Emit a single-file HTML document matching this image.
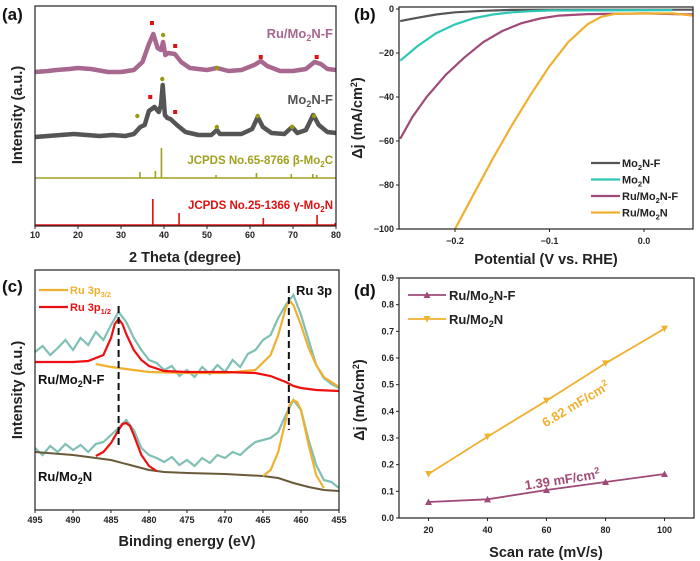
<!DOCTYPE html>
<html><head><meta charset="utf-8"><style>
html,body{margin:0;padding:0;background:#fff}
svg{display:block;font-family:"Liberation Sans",Arial,sans-serif}
.tk{font-size:9px;font-weight:bold;fill:#222}
.ttl{font-size:14.5px;font-weight:bold;fill:#222}
.pl{font-size:17px;font-weight:bold;fill:#111}
</style></head><body>
<svg id="fig" width="700" height="561" viewBox="0 0 700 561" xmlns="http://www.w3.org/2000/svg">
<g id="pa"></g>
<g id="pb"></g>
<g id="pc"></g>
<g id="pd"></g>
</svg>
<script>
// ---------- Panel (a) data ----------
const xrdTicks = [10,20,30,40,50,60,70,80];
const xrdRuX = [10,13,15,18,20,23,27,30,33,35,36.5,37.5,38.5,39.3,39.8,40.3,41,42.5,44,46,50,52.3,55,58,61,62.5,64,67,70,73,75,76.5,78,80];
const xrdRuY = [0,1,2,3,4,3,0,0,2,10,28,38,24,22,30,17,19,18,10,4,2,4,1,2,7,11,6,1,1,3,10,8,3,2];
const xrdMoX = [10,13,16,19,22,25,28,31,33,34.5,35.5,36.5,37.8,38.8,39.3,39.7,40.2,40.8,41.5,43,45,48,51,52.3,53,58,60.5,61.8,63,65,68,69.8,71,73,74.7,76,78,80];
const xrdMoY = [0,1,2,3,2,1,2,1,3,10,12,26,30,25,32,52,22,19,18,12,5,2,2,7,3,3,8,20,10,4,3,10,4,7,22,12,5,4];
const mo2cPos = [34.4,38.0,39.4,52.1,61.5,69.6,74.6,75.5];
const mo2cH = [6,7,30,3,5,4,4,3];
const mo2nPos = [37.4,43.5,63.1,75.6,79.8];
const mo2nH = [27,13,8,11,3];
const ruSq = [37.2,42.6,62.5,75.5]; const ruSqY = [49,26,15,15];
const ruDot = [39.8,52.3]; const ruDotY = [37,4];
const moSq = [36.8,42.6]; const moSqY = [40,25];
const moDot = [33.8,39.6,52.3,61.8,69.8,74.9]; const moDotY = [21,58,10,21,10,21];

// ---------- Panel (b) data ----------
const lsvTicksX = [-0.2,-0.1,0.0];
const lsvTicksY = [0,-20,-40,-60,-80,-100];
const mo2nfV = [-0.258,-0.24,-0.22,-0.2,-0.17,-0.14,-0.1,0,0.052];
const mo2nfJ = [-5.5,-4,-2.5,-1.5,-0.8,-0.4,-0.3,-0.3,-0.3];
const mo2nV = [-0.258,-0.24,-0.22,-0.2,-0.18,-0.16,-0.14,-0.12,-0.1,0.03];
const mo2nJ = [-23.5,-17,-11,-7,-4.2,-2.5,-1.5,-1,-0.7,-0.5];
const rufV = [-0.258,-0.245,-0.23,-0.21,-0.19,-0.17,-0.15,-0.13,-0.11,-0.09,-0.06,0,0.052];
const rufJ = [-59,-49,-40,-30,-22,-15,-10,-6.5,-4.3,-3,-2.3,-2,-2.5];
const runV = [-0.2,-0.18,-0.16,-0.14,-0.12,-0.1,-0.08,-0.06,-0.045,-0.03,0,0.03,0.052];
const runJ = [-100,-84,-68,-53,-39,-26,-15,-7,-3.5,-2.2,-2,-2,-3];

// ---------- Panel (c) data ----------
const xpsTicks = [495,490,485,480,475,470,465,460,455];
const upRedX = [495,490,488,486,485,484.5,484,483.5,483,482,481,480,478,475,470,466,464,462,461,460,458,455];
const upRedY = [148,148,149,155,172,186,191,186,176,160,150,144,139,138,138,137,134,128,124,122,120,119];
const upOrX = [487,485,483,480,475,470,466,464,463,462,461.5,461,460,459,458,457,455];
const upOrY = [146,143,141,138,137,137,140,155,175,202,209,205,185,162,145,133,123];
const upRawX = [495,494,493,492,491,490,489,488,487,486,485,484,483,482,481,480,479,478,477,476,475,474,473,472,471,470,469,468,467,466,465,464,463,462,461,460,459,458,457,456,455];
const upRawY = [158,164,155,162,170,160,172,165,178,170,185,198,188,172,160,150,147,140,144,134,140,133,143,136,145,138,150,143,156,160,170,175,192,205,215,195,170,145,132,126,122];
const loBgX = [495,490,485,482,480,478,475,470,465,463,461,459,457,455];
const loBgY = [58,55,50,44,40,38,37,36,34,32,27,23,20,19];
const loRedX = [487,486,485,484,483.5,483,482.5,482,481,480,479];
const loRedY = [54,58,67,80,86,87,84,75,55,44,39];
const loOrX = [465,464,463,462,461.5,461,460.5,460,459,458,457];
const loOrY = [34,40,58,90,105,110,108,100,65,35,22];
const loRawY = [62,55,64,58,66,60,65,58,66,68,75,82,90,80,62,55,52,48,53,45,50,44,52,47,55,52,58,55,62,68,70,72,78,95,110,100,70,45,30,28,22];

// ---------- Panel (d) data ----------
const scanRates = [20,40,60,80,100];
const ruMo2nF = [0.06,0.07,0.105,0.135,0.165];
const ruMo2n = [0.165,0.305,0.44,0.58,0.71];
const dTicksX = [20,40,60,80,100];
const dTicksY = [0.0,0.1,0.2,0.3,0.4,0.5,0.6,0.7,0.8,0.9];

const NS="http://www.w3.org/2000/svg";
function mk(parent,tag,attrs,text){const e=document.createElementNS(NS,tag);for(const k in attrs)e.setAttribute(k,attrs[k]);if(text!==undefined)e.textContent=text;parent.appendChild(e);return e;}
function lin(d0,d1,r0,r1){return v=>r0+(v-d0)*(r1-r0)/(d1-d0);}
function pathD(xs,ys,sx,sy){return xs.map((x,i)=>(i?'L':'M')+sx(x).toFixed(1)+','+sy(ys[i]).toFixed(1)).join('');}

// ================= Panel A =================
(function(){
const g=document.getElementById('pa');
const X0=35,X1=336,T=6,B=226;
const sx=lin(10,80,X0,X1);
let t=mk(g,'text',{x:2,y:20,class:'pl'},'(a)');


let p=mk(g,'path',{d:pathD(xrdRuX,xrdRuY,sx,v=>72-v),fill:'none',stroke:'#a8678f','stroke-width':4.5,'stroke-linejoin':'round'});


p=mk(g,'path',{d:pathD(xrdMoX,xrdMoY,sx,v=>137-v),fill:'none',stroke:'#555','stroke-width':4.5,'stroke-linejoin':'round'});


let l=mk(g,'line',{x1:X0,x2:X1,y1:178,y2:178,stroke:'#a0a020','stroke-width':1.5});


mo2cPos.forEach((x,i)=>{const s=mk(g,'line',{x1:sx(x),x2:sx(x),y1:178,y2:178-mo2cH[i],stroke:'#a0a020','stroke-width':1.6});

});
l=mk(g,'line',{x1:X0,x2:X1,y1:225,y2:225,stroke:'#e01010','stroke-width':1.5});


mo2nPos.forEach((x,i)=>{const s=mk(g,'line',{x1:sx(x),x2:sx(x),y1:226,y2:226-mo2nH[i],stroke:'#e01010','stroke-width':1.6});

});
function sq(xs,ys,base){xs.forEach((x,i)=>{const r=mk(g,'rect',{x:sx(x)-2,y:base-ys[i]-2,width:4,height:4,fill:'#e01010'});

});}
function dot(xs,ys,base){xs.forEach((x,i)=>{const c=mk(g,'circle',{cx:sx(x),cy:base-ys[i],r:2.2,fill:'#9a9a10'});

});}
sq(ruSq,ruSqY,72);dot(ruDot,ruDotY,72);sq(moSq,moSqY,137);dot(moDot,moDotY,137);
t=mk(g,'text',{x:333,y:38,'text-anchor':'end','font-size':13,'font-weight':'bold',fill:'#a8678f'});
t.innerHTML='Ru/Mo<tspan font-size="9" dy="3">2</tspan><tspan dy="-3">N-F</tspan>';


t=mk(g,'text',{x:333,y:104,'text-anchor':'end','font-size':13,'font-weight':'bold',fill:'#555'});
t.innerHTML='Mo<tspan font-size="9" dy="3">2</tspan><tspan dy="-3">N-F</tspan>';


t=mk(g,'text',{x:333,y:164,'text-anchor':'end','font-size':11.5,'font-weight':'bold',fill:'#a0a020'});
t.innerHTML='JCPDS No.65-8766 β-Mo<tspan font-size="8" dy="3">2</tspan><tspan dy="-3">C</tspan>';


t=mk(g,'text',{x:333,y:209,'text-anchor':'end','font-size':11.5,'font-weight':'bold',fill:'#e01010'});
t.innerHTML='JCPDS No.25-1366 γ-Mo<tspan font-size="8" dy="3">2</tspan><tspan dy="-3">N</tspan>';


let f=mk(g,'rect',{x:X0,y:T,width:X1-X0,height:B-T,fill:'none',stroke:'#222','stroke-width':1.2});


xrdTicks.forEach(v=>{const tk=mk(g,'line',{x1:sx(v),x2:sx(v),y1:B,y2:B+3,stroke:'#222'});


const tl=mk(g,'text',{x:sx(v),y:B+12,'text-anchor':'middle',class:'tk'},v);

});
t=mk(g,'text',{x:185,y:262,'text-anchor':'middle',class:'ttl'},'2 Theta (degree)');


t=mk(g,'text',{x:0,y:0,'text-anchor':'middle',class:'ttl',transform:'translate(22,115) rotate(-90)'},'Intensity (a.u.)');


})();

// ================= Panel B =================
(function(){
const g=document.getElementById('pb');
const X0=399,X1=693,T=9,B=229;
const sx=lin(-0.2,0.0,455,644), sy=lin(0,-100,T,B);
let t=mk(g,'text',{x:354,y:20,class:'pl'},'(b)');


const cp=mk(g,'clipPath',{id:'cb'});mk(cp,'rect',{x:X0,y:T-3,width:X1-X0,height:B-T+3});
const series=[[mo2nfV,mo2nfJ,'#555','mo2n-f-lsv-curve'],[mo2nV,mo2nJ,'#2ec8b8','mo2n-lsv-curve'],[rufV,rufJ,'#a04a78','ru-mo2n-f-lsv-curve'],[runV,runJ,'#f0b030','ru-mo2n-lsv-curve']];
series.forEach(s=>{const p=mk(g,'path',{d:pathD(s[0],s[1],sx,sy),fill:'none',stroke:s[2],'stroke-width':2.2,'clip-path':'url(#cb)'});

});
let f=mk(g,'rect',{x:X0,y:T-2,width:X1-X0,height:B-T+2,fill:'none',stroke:'#222','stroke-width':1.2});


lsvTicksX.forEach(v=>{const tk=mk(g,'line',{x1:sx(v),x2:sx(v),y1:B,y2:B+3,stroke:'#222'});


const tl=mk(g,'text',{x:sx(v),y:B+15,'text-anchor':'middle',class:'tk'},v.toFixed(1).replace('-','−'));

});
lsvTicksY.forEach(v=>{const tk=mk(g,'line',{x1:X0,x2:X0-3,y1:sy(v),y2:sy(v),stroke:'#222'});


const tl=mk(g,'text',{x:X0-5,y:sy(v)+3,'text-anchor':'end',class:'tk'},String(v).replace('-','−'));

});
t=mk(g,'text',{x:546,y:264,'text-anchor':'middle',class:'ttl'},'Potential (V vs. RHE)');


t=mk(g,'text',{x:0,y:0,'text-anchor':'middle',class:'ttl',transform:'translate(362,118) rotate(-90)'});
t.innerHTML='Δj (mA/cm<tspan font-size="9" dy="-5">2</tspan><tspan dy="5">)</tspan>';


const leg=[['#555','Mo','N-F'],['#2ec8b8','Mo','N'],['#a04a78','Ru/Mo','N-F'],['#f0b030','Ru/Mo','N']];
leg.forEach((e,i)=>{const y=163+i*16.5;
const ll=mk(g,'line',{x1:591,x2:620,y1:y,y2:y,stroke:e[0],'stroke-width':2.2});


const lt=mk(g,'text',{x:622,y:y+4,'font-size':11,'font-weight':'bold',fill:'#222'});
lt.innerHTML=e[1]+'<tspan font-size="7.5" dy="3">2</tspan><tspan dy="-3">'+e[2]+'</tspan>';

});
})();

// ================= Panel C =================
(function(){
const g=document.getElementById('pc');
const X0=35,X1=339,T=270,B=510;
const sx=lin(495,455,X0,X1), sy=v=>B-v;
let t=mk(g,'text',{x:2,y:292,class:'pl'},'(c)');


const raw=[[upRawX,upRawY,'upper-raw-spectrum'],[upRawX,loRawY,'lower-raw-spectrum']];
raw.forEach(r=>{const p=mk(g,'path',{d:pathD(r[0],r[1],sx,sy),fill:'none',stroke:'#7fbfb4','stroke-width':2.2});

});
let p=mk(g,'path',{d:pathD(loBgX,loBgY,sx,sy),fill:'none',stroke:'#6a5a3a','stroke-width':2});


const fits=[[upOrX,upOrY,'#f0b030','upper-3p32-fit'],[upRedX,upRedY,'#ee1010','upper-3p12-fit'],[loRedX,loRedY,'#ee1010','lower-3p12-fit'],[loOrX,loOrY,'#f0b030','lower-3p32-fit']];
fits.forEach(s=>{const q=mk(g,'path',{d:pathD(s[0],s[1],sx,sy),fill:'none',stroke:s[2],'stroke-width':2.2});

});
let d=mk(g,'line',{x1:sx(484),x2:sx(484),y1:306,y2:448,stroke:'#111','stroke-width':2,'stroke-dasharray':'7,4'});


d=mk(g,'line',{x1:sx(461.6),x2:sx(461.6),y1:286,y2:430,stroke:'#111','stroke-width':2,'stroke-dasharray':'7,4'});


let f=mk(g,'rect',{x:X0,y:T,width:X1-X0,height:B-T,fill:'none',stroke:'#222','stroke-width':1.2});


xpsTicks.forEach(v=>{const tk=mk(g,'line',{x1:sx(v),x2:sx(v),y1:B,y2:B+3,stroke:'#222'});


const tl=mk(g,'text',{x:sx(v),y:B+13,'text-anchor':'middle',class:'tk'},v);

});
t=mk(g,'text',{x:187,y:546,'text-anchor':'middle',class:'ttl'},'Binding energy (eV)');


t=mk(g,'text',{x:0,y:0,'text-anchor':'middle',class:'ttl',transform:'translate(22,390) rotate(-90)'},'Intensity (a.u.)');


let l=mk(g,'line',{x1:39,x2:68,y1:290,y2:290,stroke:'#f0b030','stroke-width':2.2});


t=mk(g,'text',{x:70,y:294,'font-size':11,'font-weight':'bold',fill:'#f0b030'});
t.innerHTML='Ru 3p<tspan font-size="7.5" dy="3">3/2</tspan>';


l=mk(g,'line',{x1:39,x2:68,y1:307,y2:307,stroke:'#ee1010','stroke-width':2.2});


t=mk(g,'text',{x:70,y:311,'font-size':11,'font-weight':'bold',fill:'#ee1010'});
t.innerHTML='Ru 3p<tspan font-size="7.5" dy="3">1/2</tspan>';


t=mk(g,'text',{x:296,y:295,'font-size':13,'font-weight':'bold',fill:'#111'},'Ru 3p');


t=mk(g,'text',{x:38,y:384,'font-size':13,'font-weight':'bold',fill:'#111'});
t.innerHTML='Ru/Mo<tspan font-size="9" dy="3">2</tspan><tspan dy="-3">N-F</tspan>';


t=mk(g,'text',{x:38,y:481,'font-size':13,'font-weight':'bold',fill:'#111'});
t.innerHTML='Ru/Mo<tspan font-size="9" dy="3">2</tspan><tspan dy="-3">N</tspan>';


})();

// ================= Panel D =================
(function(){
const g=document.getElementById('pd');
const X0=399,X1=694,T=278,B=518;
const sx=lin(10,110,X0,X1), sy=lin(0,0.9,B,T);
let t=mk(g,'text',{x:354,y:296,class:'pl'},'(d)');


let f=mk(g,'rect',{x:X0,y:T,width:X1-X0,height:B-T,fill:'none',stroke:'#222','stroke-width':1.2});


dTicksX.forEach(v=>{const tk=mk(g,'line',{x1:sx(v),x2:sx(v),y1:B,y2:B+3,stroke:'#222'});


const tl=mk(g,'text',{x:sx(v),y:B+15,'text-anchor':'middle',class:'tk'},v);

});
dTicksY.forEach(v=>{const tk=mk(g,'line',{x1:X0,x2:X0-3,y1:sy(v),y2:sy(v),stroke:'#222'});


const tl=mk(g,'text',{x:X0-5,y:sy(v)+3,'text-anchor':'end',class:'tk'},v.toFixed(1));

});
function tri(cx,cy,up){return up?`M${cx-3.5},${cy+3}L${cx+3.5},${cy+3}L${cx},${cy-3.5}Z`:`M${cx-3.5},${cy-3}L${cx+3.5},${cy-3}L${cx},${cy+3.5}Z`;}
const ser=[[ruMo2nF,'#a04a78',true,'ru-mo2n-f'],[ruMo2n,'#f0b030',false,'ru-mo2n']];
ser.forEach(s=>{const p=mk(g,'path',{d:pathD(scanRates,s[0],sx,sy),fill:'none',stroke:s[1],'stroke-width':1.8});


scanRates.forEach((x,i)=>{const m=mk(g,'path',{d:tri(sx(x),sy(s[0][i]),s[2]),fill:s[1]});

});});
t=mk(g,'text',{x:546,y:557,'text-anchor':'middle',class:'ttl'},'Scan rate (mV/s)');


t=mk(g,'text',{x:0,y:0,'text-anchor':'middle',class:'ttl',transform:'translate(364,400) rotate(-90)'});
t.innerHTML='Δj (mA/cm<tspan font-size="9" dy="-5">2</tspan><tspan dy="5">)</tspan>';


const leg=[['#a04a78',true,'N-F'],['#f0b030',false,'N']];
leg.forEach((e,i)=>{const y=295+i*24;
const ll=mk(g,'line',{x1:408,x2:446,y1:y,y2:y,stroke:e[0],'stroke-width':1.8});


const lm=mk(g,'path',{d:tri(427,y,e[1]),fill:e[0]});


const lt=mk(g,'text',{x:449,y:y+5,'font-size':13,'font-weight':'bold',fill:'#222'});
lt.innerHTML='Ru/Mo<tspan font-size="9" dy="3">2</tspan><tspan dy="-3">'+e[2]+'</tspan>';

});
t=mk(g,'text',{x:0,y:0,'text-anchor':'middle','font-size':13,'font-weight':'bold',fill:'#f0b030',transform:'translate(578,408) rotate(-31)'});
t.innerHTML='6.82 mF/cm<tspan font-size="9" dy="-5">2</tspan>';


t=mk(g,'text',{x:0,y:0,'text-anchor':'middle','font-size':13,'font-weight':'bold',fill:'#a04a78',transform:'translate(563,484) rotate(-9)'});
t.innerHTML='1.39 mF/cm<tspan font-size="9" dy="-5">2</tspan>';


})();
</script>
</body></html>
